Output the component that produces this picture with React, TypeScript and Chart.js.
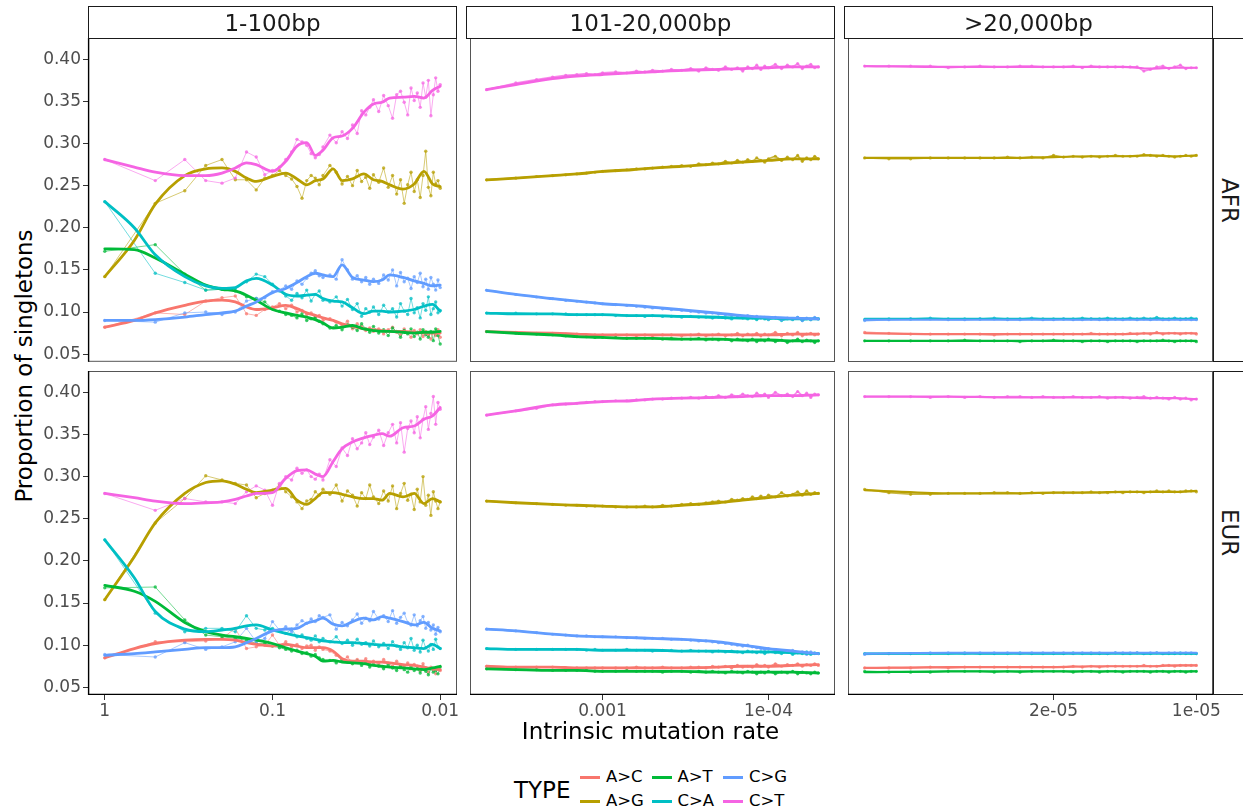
import React, { useEffect, useRef } from "react";
import { Chart, registerables } from "chart.js";
Chart.register(...registerables);

// ---------- categories ----------
const TYPES = ["A>C", "A>G", "A>T", "C>A", "C>G", "C>T"];
const COLORS = ["#F8766D", "#B79F00", "#00BA38", "#00BFC4", "#619CFF", "#F564E3"];
const POPULATIONS = ["AFR", "EUR"];
const LENGTH_CLASSES = ["1-100bp", "101-20,000bp", ">20,000bp"];

// ---------- x values (tract length; intrinsic mutation rate = 1/length) ----------
const LEN_SHORT = [1,2,3,4,5,6,7,8,9,10,11,12,13,14,15,16,17,18,19,20,22,24,26,28,30,32,34,36,38,40,43,46,49,52,55,58,61,64,67,70,73,76,79,82,85,88,91,94,97,100];
const LEN_SHORT_SMOOTH = [1,1.5,2,3,4,5,6,7,8,10,12,14,16,18,20,23,26,30,35,40,45,50,60,70,80,90,100];
const LEN_MID = [200,300,400,500,600,700,800,900,1000,1200,1400,1600,1800,2000,2300,2600,3000,3400,3800,4200,4600,5000,5500,6000,6500,7000,7500,8000,8500,9000,9500,10000,11000,12000,13000,14000,15000,16000,17000,18000,19000,20000];
const LEN_MID_SMOOTH = [200,300,500,700,1000,1500,2000,3000,5000,7000,10000,14000,20000];
const LEN_LONG = [20000,22500,25000,27500,30000,32500,35000,37500,40000,42500,45000,47500,50000,52500,55000,57500,60000,62500,65000,67500,70000,72500,75000,77500,80000,82500,85000,87500,90000,92500,95000,97500,100000];
const LEN_LONG_SMOOTH = [20000,30000,40000,50000,60000,70000,80000,90000,100000];

// ---------- tick values / labels ----------
const Y_TICKS = [0.05, 0.1, 0.15, 0.2, 0.25, 0.3, 0.35, 0.4];
const X_TICKS = [[1, 0.1, 0.01], [0.001, 0.0001], [2e-5, 1e-5]];
const X_TICK_LABELS = [["1", "0.1", "0.01"], ["0.001", "1e-04"], ["2e-05", "1e-05"]];

// ---------- AFR, 1-100bp (order of TYPES) ----------
const AFR_SHORT_RAW = [
  [.082,.099,.097,.113,.117,.119,.098,.096,.103,.106, .110,.104,.108,.100,.102,.097,.099,.094,.096,.090, .092,.088,.084,.089,.080,.086,.083,.078,.081,.077, .080,.074,.079,.082,.076,.073,.080,.075,.070,.078, .074,.079,.071,.077,.073,.068,.076,.072,.079,.070],
  [.142,.229,.244,.274,.281,.257,.257,.245,.259,.262, .268,.262,.258,.249,.235,.256,.262,.259,.251,.262, .274,.266,.252,.261,.250,.268,.255,.260,.247,.263, .254,.271,.248,.262,.240,.257,.229,.251,.266,.243, .257,.236,.262,.291,.248,.238,.266,.252,.256,.247],
  [.172,.180,.145,.126,.127,.125,.118,.116,.112,.104, .101,.097,.096,.093,.098,.090,.092,.094,.089,.086, .081,.084,.079,.085,.082,.078,.086,.080,.076,.083, .075,.079,.072,.081,.077,.070,.078,.074,.080,.071, .076,.068,.079,.073,.070,.077,.066,.080,.072,.062],
  [.231,.146,.135,.126,.127,.128,.136,.145,.142,.133, .125,.119,.114,.122,.117,.126,.113,.121,.125,.114, .112,.118,.107,.115,.103,.110,.095,.104,.100,.106, .097,.108,.100,.104,.094,.110,.101,.097,.116,.099, .105,.093,.110,.102,.118,.097,.104,.112,.099,.102],
  [.090,.088,.099,.100,.097,.100,.113,.116,.117,.124, .126,.131,.127,.137,.133,.140,.146,.149,.143,.141, .144,.139,.162,.150,.139,.143,.136,.141,.133,.139, .134,.144,.138,.150,.131,.147,.136,.140,.128,.142, .135,.146,.130,.139,.127,.141,.133,.126,.138,.129],
  [.281,.256,.281,.256,.253,.259,.290,.284,.263,.268, .272,.281,.290,.305,.302,.298,.288,.283,.287,.296, .310,.301,.314,.306,.322,.312,.339,.334,.343,.352, .338,.357,.345,.330,.358,.362,.349,.334,.366,.351, .360,.343,.372,.355,.375,.333,.358,.378,.362,.370],
];
const AFR_SHORT_SMOOTH = [
  [.082,.090,.099,.108,.113,.114,.112,.106,.103, .105,.108,.104,.099,.096,.093,.090,.086,.083, .080,.079,.078,.077,.077,.076,.075,.075,.075],
  [.142,.185,.228,.262,.270,.271,.267,.259,.255, .261,.265,.258,.251,.256,.258,.270,.256,.258, .264,.257,.255,.251,.246,.252,.267,.252,.249],
  [.175,.174,.164,.145,.132,.127,.125,.120,.114, .103,.099,.096,.094,.091,.087,.081,.082,.084, .080,.078,.077,.077,.076,.075,.076,.076,.077],
  [.231,.200,.168,.142,.131,.128,.129,.137,.140, .132,.121,.119,.120,.121,.116,.113,.112,.105, .098,.101,.101,.100,.101,.103,.107,.109,.101],
  [.090,.090,.091,.094,.097,.099,.101,.107,.112, .123,.128,.135,.142,.146,.144,.142,.156,.141, .138,.136,.138,.144,.141,.137,.134,.131,.132],
  [.281,.272,.266,.262,.262,.265,.271,.277,.275, .267,.279,.297,.301,.286,.292,.307,.309,.318, .337,.347,.349,.354,.355,.356,.354,.363,.368],
];

// ---------- EUR, 1-100bp ----------
const EUR_SHORT_RAW = [
  [.085,.104,.104,.105,.108,.120,.096,.098,.100,.112, .100,.104,.098,.101,.096,.099,.100,.094,.098,.095, .093,.088,.082,.086,.079,.083,.080,.084,.078,.081, .077,.083,.079,.075,.081,.076,.074,.079,.072,.077, .075,.070,.078,.073,.068,.074,.071,.066,.073,.070],
  [.154,.245,.274,.301,.296,.292,.290,.275,.280,.284, .290,.282,.276,.270,.262,.271,.273,.282,.278,.285, .279,.290,.271,.283,.278,.265,.281,.274,.290,.276, .268,.283,.271,.289,.262,.280,.292,.272,.279,.261, .285,.270,.300,.266,.278,.254,.282,.271,.262,.270],
  [.168,.169,.130,.112,.110,.108,.106,.102,.102,.099, .097,.095,.093,.094,.090,.091,.087,.089,.085,.083, .082,.079,.083,.080,.078,.081,.076,.079,.074,.077, .075,.072,.077,.073,.070,.075,.071,.068,.074,.070, .072,.067,.074,.069,.065,.072,.068,.070,.066,.074],
  [.225,.138,.116,.120,.120,.116,.135,.120,.118,.120, .117,.114,.119,.110,.112,.108,.106,.111,.104,.108, .104,.110,.102,.106,.100,.107,.101,.103,.099,.105, .098,.102,.096,.104,.099,.095,.103,.097,.108,.094, .100,.092,.106,.097,.093,.101,.095,.107,.098,.096],
  [.089,.086,.103,.095,.098,.104,.120,.104,.108,.128, .118,.122,.116,.124,.129,.126,.131,.128,.135,.133, .136,.119,.127,.123,.130,.137,.126,.132,.129,.140, .131,.135,.128,.141,.126,.133,.138,.127,.124,.136, .123,.129,.134,.120,.127,.118,.124,.113,.121,.116],
  [.280,.260,.274,.270,.270,.268,.282,.289,.284,.266, .292,.300,.296,.310,.304,.308,.300,.297,.303,.296, .320,.312,.334,.325,.345,.333,.340,.352,.338,.347, .355,.337,.352,.362,.340,.364,.329,.357,.366,.352, .371,.346,.368,.383,.356,.375,.395,.362,.388,.380],
];
const EUR_SHORT_SMOOTH = [
  [.085,.096,.102,.106,.107,.107,.106,.103,.101, .099,.101,.099,.097,.097,.097,.093,.084,.081, .081,.080,.080,.079,.077,.076,.074,.072,.071],
  [.154,.205,.245,.280,.293,.295,.291,.285,.281, .284,.286,.272,.267,.274,.281,.281,.279,.276, .274,.274,.272,.280,.276,.280,.268,.274,.270],
  [.171,.164,.152,.127,.116,.112,.110,.108,.106, .102,.097,.093,.090,.087,.081,.082,.080,.079, .078,.076,.075,.074,.073,.072,.071,.073,.075],
  [.225,.180,.140,.119,.116,.118,.120,.123,.124, .118,.114,.111,.109,.107,.105,.104,.103,.103, .102,.101,.100,.100,.098,.097,.096,.101,.096],
  [.088,.090,.092,.095,.097,.097,.098,.103,.108, .117,.119,.120,.126,.129,.132,.125,.123,.128, .132,.130,.134,.132,.128,.124,.127,.120,.117],
  [.280,.275,.271,.268,.269,.270,.273,.277,.280, .281,.298,.307,.308,.303,.300,.318,.333,.341, .346,.349,.351,.348,.358,.360,.368,.372,.382],
];

// ---------- AFR, 101-20,000bp ----------
const AFR_MID_RAW = [
  [.077,.076,.075,.075,.074,.074,.073,.073,.073, .073,.073,.072,.073,.072, .073,.073,.072,.073,.074,.072,.073,.074, .072,.073,.075,.072,.074,.073,.075,.072,.074,.073, .076,.072,.075,.073,.076,.072,.074,.075,.073,.074],
  [.257,.259,.261,.262,.263,.264,.265,.266,.267, .268,.269,.270,.270,.271, .272,.273,.274,.273,.276,.275,.277,.276, .279,.277,.280,.278,.281,.279,.283,.280,.278,.282, .285,.280,.284,.281,.286,.279,.283,.281,.285,.282],
  [.077,.075,.074,.073,.072,.071,.071,.070,.070, .070,.069,.069,.069,.069, .068,.069,.068,.068,.069,.067,.068,.067, .068,.066,.068,.067,.066,.068,.065,.067,.066,.068, .065,.067,.064,.066,.068,.065,.067,.066,.064,.066],
  [.099,.099,.098,.098,.098,.097,.097,.097,.097, .096,.096,.096,.095,.096, .095,.095,.094,.095,.094,.094,.093,.094, .093,.092,.094,.093,.092,.093,.091,.094,.092,.091, .093,.090,.092,.091,.094,.090,.092,.091,.093,.092],
  [.126,.121,.118,.116,.114,.113,.112,.111,.110, .109,.108,.107,.106,.105, .104,.103,.102,.101,.100,.099,.099,.098, .097,.096,.096,.095,.096,.094,.095,.093,.094,.092, .094,.091,.093,.092,.094,.090,.093,.091,.094,.092],
  [.364,.372,.376,.379,.381,.382,.383,.382,.384, .385,.384,.386,.385,.387, .386,.388,.387,.389,.386,.390,.388,.387, .391,.388,.390,.386,.391,.389,.393,.388,.392,.390, .394,.389,.393,.391,.395,.389,.392,.394,.390,.391],
];
const AFR_MID_SMOOTH = [
  [.077,.076,.075,.074,.073,.073,.073,.073,.073,.073,.073,.074,.074],
  [.257,.259,.262,.264,.267,.269,.271,.273,.276,.278,.280,.282,.282],
  [.077,.075,.073,.071,.070,.069,.069,.068,.068,.067,.067,.066,.066],
  [.099,.098,.098,.097,.097,.096,.096,.095,.094,.093,.093,.092,.092],
  [.126,.121,.116,.113,.110,.108,.106,.103,.099,.096,.094,.093,.092],
  [.364,.370,.377,.380,.382,.384,.385,.387,.388,.389,.390,.391,.391],
];

// ---------- EUR, 101-20,000bp ----------
const EUR_MID_RAW = [
  [.075,.074,.074,.074,.073,.073,.073,.073,.073, .073,.073,.074,.073,.073, .074,.073,.073,.074,.074,.073,.075,.074, .075,.073,.076,.074,.075,.074,.077,.075,.076,.074, .078,.075,.077,.076,.078,.075,.077,.076,.078,.076],
  [.271,.269,.268,.267,.266,.266,.265,.265,.265, .264,.264,.264,.265,.264, .266,.265,.267,.268,.267,.269,.270,.271, .270,.273,.272,.274,.273,.276,.274,.277,.275,.278, .276,.281,.277,.279,.282,.278,.283,.279,.281,.280],
  [.072,.071,.071,.070,.070,.070,.070,.069,.069, .069,.070,.069,.069,.069, .068,.069,.069,.068,.069,.068,.069,.068, .067,.069,.068,.067,.069,.068,.066,.068,.067,.069, .066,.068,.067,.069,.066,.068,.067,.066,.068,.067],
  [.096,.095,.095,.095,.095,.095,.094,.095,.094, .094,.095,.094,.094,.093, .094,.094,.093,.094,.093,.093,.092,.093, .092,.093,.092,.091,.093,.092,.091,.092,.090,.092, .091,.090,.092,.089,.091,.090,.092,.089,.091,.090],
  [.119,.117,.115,.113,.112,.111,.111,.110,.110, .110,.109,.109,.108,.108, .108,.107,.107,.106,.105,.105,.104,.103, .102,.101,.100,.099,.100,.098,.097,.096,.095,.096, .094,.093,.092,.094,.091,.092,.089,.092,.090,.090],
  [.373,.378,.381,.385,.386,.387,.388,.389,.389, .390,.390,.391,.391,.392, .392,.393,.393,.394,.393,.395,.394,.396, .394,.397,.395,.398,.396,.395,.399,.396,.398,.394, .400,.396,.398,.395,.401,.396,.399,.394,.398,.397],
];
const EUR_MID_SMOOTH = [
  [.075,.074,.074,.073,.073,.073,.073,.073,.074,.075,.075,.076,.077],
  [.271,.269,.267,.266,.265,.264,.264,.266,.269,.272,.275,.278,.280],
  [.072,.071,.070,.070,.069,.069,.069,.069,.068,.068,.068,.068,.067],
  [.096,.095,.095,.095,.094,.094,.094,.093,.093,.092,.092,.091,.090],
  [.119,.117,.113,.111,.110,.109,.108,.107,.104,.100,.096,.093,.090],
  [.373,.378,.385,.387,.389,.390,.392,.393,.394,.395,.396,.396,.397],
];

// ---------- AFR, >20,000bp ----------
const AFR_LONG_RAW = [
  [.076,.075,.074,.074,.074,.074,.074,.073,.074,.074,.074, .074,.074,.074,.074,.074,.075,.074,.074,.074,.074,.075, .074,.075,.074,.076,.074,.075,.075,.074,.075,.075,.074],
  [.283,.282,.282,.283,.283,.283,.283,.283,.284,.283,.284, .283,.286,.284,.285,.284,.285,.284,.285,.286,.285,.285, .285,.287,.286,.285,.286,.285,.284,.285,.286,.285,.286],
  [.066,.066,.066,.066,.066,.067,.066,.066,.066,.065,.066, .066,.067,.066,.066,.065,.066,.066,.065,.066,.066,.066, .065,.066,.066,.066,.067,.066,.065,.066,.066,.066,.065],
  [.091,.092,.092,.093,.092,.092,.092,.093,.092,.092,.093, .092,.092,.092,.092,.093,.092,.092,.093,.092,.092,.093, .092,.093,.092,.094,.092,.092,.093,.092,.092,.093,.092],
  [.090,.091,.092,.092,.091,.091,.092,.092,.091,.091,.092, .091,.091,.092,.091,.091,.092,.091,.091,.092,.091,.092, .091,.092,.091,.092,.091,.091,.092,.091,.092,.091,.091],
  [.392,.392,.392,.392,.390,.391,.392,.391,.391,.392,.392, .391,.391,.391,.392,.390,.392,.391,.391,.391,.391,.391, .391,.386,.388,.391,.392,.389,.391,.393,.389,.390,.390],
];
const AFR_LONG_SMOOTH = [
  [.075,.074,.074,.074,.074,.074,.075,.075,.075],
  [.283,.283,.283,.284,.285,.285,.286,.285,.286],
  [.066,.066,.066,.066,.066,.066,.066,.066,.066],
  [.092,.092,.092,.092,.092,.092,.092,.092,.092],
  [.091,.091,.091,.091,.091,.091,.091,.091,.091],
  [.392,.391,.391,.391,.391,.391,.389,.390,.390],
];

// ---------- EUR, >20,000bp ----------
const EUR_LONG_RAW = [
  [.073,.073,.073,.074,.073,.074,.074,.074,.074,.074,.074, .074,.074,.074,.075,.074,.075,.074,.075,.075,.075,.075, .075,.076,.075,.075,.076,.076,.075,.076,.076,.076,.076],
  [.285,.281,.279,.279,.280,.280,.280,.281,.281,.280,.281, .280,.281,.281,.281,.281,.282,.281,.281,.282,.281,.282, .282,.281,.282,.283,.282,.283,.282,.282,.283,.283,.282],
  [.069,.068,.068,.068,.069,.069,.069,.068,.069,.068,.069, .069,.069,.069,.068,.069,.069,.068,.069,.069,.068,.069, .069,.069,.068,.069,.069,.068,.069,.069,.068,.069,.069],
  [.090,.090,.090,.090,.090,.091,.090,.090,.090,.091,.090, .090,.090,.090,.091,.090,.090,.090,.090,.091,.090,.090, .091,.090,.090,.091,.090,.090,.090,.091,.090,.090,.090],
  [.089,.090,.090,.091,.091,.090,.091,.091,.091,.090,.091, .091,.091,.091,.090,.091,.091,.091,.090,.091,.091,.091, .091,.090,.091,.091,.090,.091,.091,.090,.091,.091,.090],
  [.395,.395,.395,.394,.395,.394,.395,.394,.395,.395,.394, .395,.394,.394,.395,.394,.394,.395,.393,.394,.394,.393, .394,.395,.393,.394,.393,.392,.394,.392,.393,.391,.392],
];
const EUR_LONG_SMOOTH = [
  [.073,.074,.074,.074,.075,.075,.075,.076,.076],
  [.284,.280,.280,.281,.281,.282,.282,.282,.283],
  [.068,.069,.069,.069,.069,.069,.069,.069,.069],
  [.090,.090,.090,.090,.090,.090,.090,.090,.090],
  [.090,.091,.091,.091,.091,.091,.091,.091,.091],
  [.395,.395,.394,.394,.394,.394,.393,.393,.392],
];

// ---------- panel table ----------
const PANELS = [
  [
    { rawLen: LEN_SHORT, raw: AFR_SHORT_RAW, smLen: LEN_SHORT_SMOOTH, sm: AFR_SHORT_SMOOTH },
    { rawLen: LEN_MID, raw: AFR_MID_RAW, smLen: LEN_MID_SMOOTH, sm: AFR_MID_SMOOTH },
    { rawLen: LEN_LONG, raw: AFR_LONG_RAW, smLen: LEN_LONG_SMOOTH, sm: AFR_LONG_SMOOTH },
  ],
  [
    { rawLen: LEN_SHORT, raw: EUR_SHORT_RAW, smLen: LEN_SHORT_SMOOTH, sm: EUR_SHORT_SMOOTH },
    { rawLen: LEN_MID, raw: EUR_MID_RAW, smLen: LEN_MID_SMOOTH, sm: EUR_MID_SMOOTH },
    { rawLen: LEN_LONG, raw: EUR_LONG_RAW, smLen: LEN_LONG_SMOOTH, sm: EUR_LONG_SMOOTH },
  ],
];

// axis ranges (ggplot-like 5% expansion on log scale)
const X_RANGE = [[0.00794, 1.259], [3.97e-5, 6.295e-3], [9.226e-6, 5.42e-5]];
const Y_RANGE = [0.0409, 0.4253];

// ---------- layout ----------
const PANEL_LEFT = [88, 466, 844];
const PANEL_TOP = [38, 371];
const PANEL_W = 369;
const PANEL_H = 324;
const Y_AXIS_W = 48;
const X_AXIS_H = 28;
const PAD_R = 26;
const PAD_B = 12;
const PAD_T = 14;
const FONT = "'DejaVu Sans', 'Liberation Sans', sans-serif";

Chart.defaults.font.family = FONT;

function rgba(hex: string, a: number) {
  const v = parseInt(hex.slice(1), 16);
  return `rgba(${(v >> 16) & 255},${(v >> 8) & 255},${v & 255},${a})`;
}

const framePlugin = {
  id: "frame",
  afterDraw(chart: any, _args: any, opts: any) {
    const { ctx, chartArea } = chart;
    const { left, top, right, bottom } = chartArea;
    ctx.save();
    ctx.strokeStyle = "#555555";
    ctx.lineWidth = 1;
    ctx.strokeRect(left + 0.5, top + 0.5, right - left - 1, bottom - top - 1);
    ctx.strokeStyle = "#000000";
    ctx.lineWidth = 1.4;
    if (opts.left) {
      ctx.beginPath();
      ctx.moveTo(left + 0.6, top);
      ctx.lineTo(left + 0.6, bottom);
      ctx.stroke();
    }
    if (opts.bottom) {
      ctx.beginPath();
      ctx.moveTo(left, bottom - 0.6);
      ctx.lineTo(right, bottom - 0.6);
      ctx.stroke();
    }
    ctx.restore();
  },
};

function Panel({ r, c }: { r: number; c: number }) {
  const ref = useRef<HTMLCanvasElement>(null);
  const isLeft = c === 0;
  const isBottom = r === 1;
  const w = PANEL_W + (isLeft ? Y_AXIS_W : 0) + PAD_R;
  const h = PAD_T + PANEL_H + (isBottom ? X_AXIS_H : 0) + PAD_B;

  useEffect(() => {
    const spec = PANELS[r][c];
    const dense = c > 0;
    const datasets: any[] = [];
    TYPES.forEach((t, i) => {
      const col = COLORS[i];
      const rawVals = spec.raw[i];
      const smVals = spec.sm[i];
      datasets.push({
        label: t + " observed",
        data: spec.rawLen.slice(0, rawVals.length).map((n, k) => ({ x: 1 / n, y: rawVals[k] })),
        borderColor: rgba(col, dense ? 0.75 : 0.55),
        borderWidth: dense ? 1.6 : 1,
        pointRadius: dense ? 1.6 : 1.7,
        pointBorderWidth: 0,
        pointBackgroundColor: rgba(col, 0.75),
        tension: 0,
        order: 30 - i,
      });
      datasets.push({
        label: t + " smooth",
        data: spec.smLen.slice(0, smVals.length).map((n, k) => ({ x: 1 / n, y: smVals[k] })),
        borderColor: col,
        borderWidth: c === 2 ? 2.2 : 2.8,
        pointRadius: 0,
        cubicInterpolationMode: "monotone",
        borderCapStyle: "round",
        order: 10 - i,
      });
    });

    const chart = new Chart(ref.current as HTMLCanvasElement, {
      type: "line",
      data: { datasets },
      plugins: [framePlugin as any],
      options: {
        responsive: false,
        devicePixelRatio: 1,
        animation: false,
        events: [],
        layout: { padding: { left: 0, top: PAD_T, right: PAD_R, bottom: PAD_B } },
        plugins: {
          legend: { display: false },
          tooltip: { enabled: false },
          frame: { left: isLeft, bottom: isBottom },
        } as any,
        scales: {
          x: {
            type: "logarithmic",
            reverse: true,
            bounds: "data",
            min: X_RANGE[c][0],
            max: X_RANGE[c][1],
            display: isBottom,
            afterBuildTicks: (s: any) => {
              s.ticks = X_TICKS[c].map((v) => ({ value: v }));
            },
            afterFit: (s: any) => {
              s.height = isBottom ? X_AXIS_H : 0;
            },
            ticks: {
              autoSkip: false,
              maxRotation: 0,
              minRotation: 0,
              padding: 1,
              color: "#4d4d4d",
              font: { size: 17 },
              callback: (_v: any, idx: number) => X_TICK_LABELS[c][idx],
            },
            grid: { display: true, drawOnChartArea: false, drawTicks: true, tickLength: 5, color: "#333333", lineWidth: 1 },
            border: { display: false },
          },
          y: {
            type: "linear",
            bounds: "data",
            min: Y_RANGE[0],
            max: Y_RANGE[1],
            display: isLeft,
            afterBuildTicks: (s: any) => {
              s.ticks = Y_TICKS.map((v) => ({ value: v }));
            },
            afterFit: (s: any) => {
              s.width = isLeft ? Y_AXIS_W : 0;
            },
            ticks: {
              padding: 2,
              color: "#4d4d4d",
              font: { size: 17 },
              callback: (v: any) => Number(v).toFixed(2),
            },
            grid: { display: true, drawOnChartArea: false, drawTicks: true, tickLength: 5, color: "#333333", lineWidth: 1 },
            border: { display: false },
          },
        } as any,
      } as any,
    });
    return () => chart.destroy();
  }, [r, c]);

  return (
    <canvas
      ref={ref}
      width={w}
      height={h}
      style={{
        position: "absolute",
        left: PANEL_LEFT[c] - (isLeft ? Y_AXIS_W : 0),
        top: PANEL_TOP[r] - PAD_T,
        width: w,
        height: h,
      }}
    />
  );
}

export default function App() {
  const panels: React.ReactNode[] = [];
  for (let r = 0; r < 2; r++) for (let c = 0; c < 3; c++) panels.push(<Panel key={`${r}-${c}`} r={r} c={c} />);

  return (
    <div
      style={{
        position: "absolute",
        left: 0,
        top: 0,
        width: 1243,
        height: 811,
        overflow: "hidden",
        background: "#ffffff",
        fontFamily: FONT,
        color: "#000",
      }}
    >
      {panels}

      {/* top strips */}
      {LENGTH_CLASSES.map((lab, c) => (
        <React.Fragment key={lab}>
          <div
            style={{
              position: "absolute",
              left: PANEL_LEFT[c],
              top: 6,
              width: PANEL_W,
              height: 33,
              boxSizing: "border-box",
              border: "1.3px solid #1a1a1a",
              background: "#ffffff",
            }}
          />
          <div
            style={{
              position: "absolute",
              left: PANEL_LEFT[c],
              top: 11.5,
              width: PANEL_W,
              textAlign: "center",
              fontSize: 23,
              lineHeight: "23px",
              color: "#1a1a1a",
              whiteSpace: "nowrap",
            }}
          >
            {lab}
          </div>
        </React.Fragment>
      ))}

      {/* right strips */}
      {POPULATIONS.map((lab, r) => (
        <div
          key={lab}
          style={{
            position: "absolute",
            left: 1213,
            top: PANEL_TOP[r],
            width: 33,
            height: PANEL_H,
            boxSizing: "border-box",
            border: "1.3px solid #1a1a1a",
            background: "#ffffff",
            display: "flex",
            alignItems: "center",
            justifyContent: "center",
          }}
        >
          <span style={{ writingMode: "vertical-rl", fontSize: 23, lineHeight: 1, color: "#1a1a1a" }}>{lab}</span>
        </div>
      ))}

      {/* axis titles */}
      <div
        style={{
          position: "absolute",
          left: 24,
          top: 366,
          transform: "translate(-50%, -50%) rotate(-90deg)",
          fontSize: 23,
          lineHeight: "23px",
          whiteSpace: "nowrap",
        }}
      >
        Proportion of singletons
      </div>
      <div
        style={{
          position: "absolute",
          left: 88,
          width: 1213 - 88,
          top: 720,
          textAlign: "center",
          fontSize: 23,
          lineHeight: "23px",
          whiteSpace: "nowrap",
        }}
      >
        Intrinsic mutation rate
      </div>

      {/* legend */}
      <div style={{ position: "absolute", left: 514, top: 779, fontSize: 23, lineHeight: "23px" }}>TYPE</div>
      {TYPES.map((t, i) => {
        const col = Math.floor(i / 2);
        const row = i % 2;
        const keyLeft = 580 + col * 71.5;
        const keyY = 777.3 + row * 24.5;
        return (
          <React.Fragment key={t}>
            <div
              style={{
                position: "absolute",
                left: keyLeft,
                top: keyY - 1.4,
                width: 20,
                height: 2.8,
                background: COLORS[i],
              }}
            />
            <div
              style={{
                position: "absolute",
                left: keyLeft + 26,
                top: keyY - 8.5,
                fontSize: 16.5,
                lineHeight: "16.5px",
                whiteSpace: "nowrap",
              }}
            >
              {t}
            </div>
          </React.Fragment>
        );
      })}
    </div>
  );
}
